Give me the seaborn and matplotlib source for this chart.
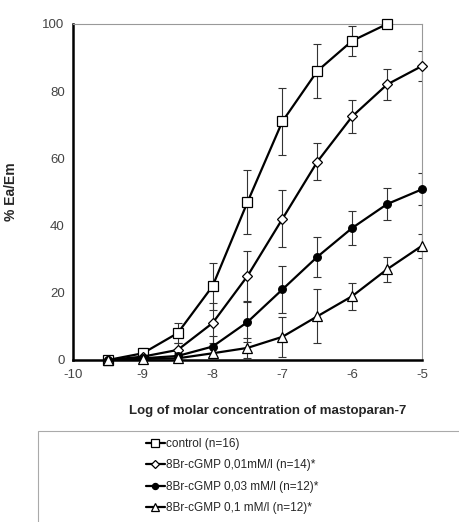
import matplotlib
matplotlib.use("Agg")
import matplotlib.pyplot as plt
import seaborn as sns
import pandas as pd
from matplotlib.patches import Rectangle
from matplotlib.ticker import MultipleLocator

# log molar concentration of mastoparan-7
log_conc = [-9.5, -9.0, -8.5, -8.0, -7.5, -7.0, -6.5, -6.0, -5.5, -5.0]

# % Ea/Em means and error (SEM) per group
control = [0, 2, 8, 22, 47, 71, 86, 95, 100, None]
control_err = [0, 1.5, 3, 7, 9.5, 10, 8, 4.5, 0, None]
cgmp_001 = [0, 1, 3, 11, 25, 42, 59, 72.5, 82, 87.5]
cgmp_001_err = [0, 0.5, 2, 6, 7.5, 8.5, 5.5, 4.8, 4.5, 4.5]
cgmp_003 = [0, 0.5, 1.2, 4, 11.3, 21, 30.7, 39.3, 46.4, 50.8]
cgmp_003_err = [0, 0.3, 1, 3, 6, 7, 6, 5, 4.7, 4.8]
cgmp_01 = [0, 0.3, 0.5, 2, 3.6, 6.9, 13, 19, 27, 34]
cgmp_01_err = [0, 0.2, 0.5, 1.5, 3, 6, 8, 4, 3.8, 3.5]

labels = ["control (n=16)",
          "8Br-cGMP 0,01mM/l (n=14)*",
          "8Br-cGMP 0,03 mM/l (n=12)*",
          "8Br-cGMP 0,1 mM/l (n=12)*"]

series = [(control, control_err, "s", "white", 7.5),
          (cgmp_001, cgmp_001_err, "D", "white", 5),
          (cgmp_003, cgmp_003_err, "o", "black", 5.5),
          (cgmp_01, cgmp_01_err, "^", "white", 6.5)]

sns.set_style("white")
plt.rcParams["font.family"] = ["Liberation Sans", "DejaVu Sans"]
plt.rcParams["axes.unicode_minus"] = False

fig = plt.figure(figsize=(4.6, 5.22), dpi=100)
ax = fig.add_axes([73 / 460, 1 - 360 / 522, 349 / 460, 336 / 522])

for (vals, errs, mk, fc, ms), lab in zip(series, labels):
    df = pd.DataFrame({"x": log_conc, "y": vals, "err": errs}).dropna()
    ax.errorbar(df["x"], df["y"], yerr=df["err"], fmt="none", ecolor="#333333",
                elinewidth=0.8, capsize=3, capthick=0.8, zorder=2)
    sns.lineplot(data=df, x="x", y="y", ax=ax, color="black", lw=1.6,
                 marker=mk, markersize=ms, markerfacecolor=fc,
                 markeredgecolor="black", markeredgewidth=0.9,
                 label=lab, zorder=3, clip_on=False)

ax.set_xlim(-10, -5)
ax.set_ylim(0, 100)
ax.xaxis.set_major_locator(MultipleLocator(1))
ax.xaxis.set_minor_locator(MultipleLocator(0.5))
ax.yaxis.set_major_locator(MultipleLocator(20))
ax.tick_params(axis="both", which="both", direction="inout", length=5,
               width=1.2, colors="black", labelcolor="#444444", labelsize=9.5)
ax.tick_params(axis="x", which="major", pad=4)

for s in ["left", "bottom"]:
    ax.spines[s].set_linewidth(1.8)
    ax.spines[s].set_color("black")
for s in ["top", "right"]:
    ax.spines[s].set_linewidth(0.8)
    ax.spines[s].set_color("#999999")

ax.set_ylabel("% Ea/Em", fontsize=10, fontweight="bold")
ax.yaxis.set_label_coords(-0.158, 0.5)
ax.set_xlabel("Log of molar concentration of mastoparan-7",
              fontsize=9.5, fontweight="bold")
ax.xaxis.set_label_coords(0.559, -0.134)

handles, labs = ax.get_legend_handles_labels()
ax.get_legend().remove()

# legend box
fig.patches.append(Rectangle((38 / 460, -0.1), 1, 1.1 - 431 / 522,
                             transform=fig.transFigure, fill=False,
                             edgecolor="#aaaaaa", lw=0.8))
fig.legend(handles, labs, loc="upper left",
           bbox_to_anchor=(140 / 460, 1 - 432 / 522), frameon=False,
           fontsize=8.5, handlelength=1.6, handletextpad=0.1,
           labelspacing=0.8, borderpad=0, markerscale=0.8)

fig.savefig("out.png", dpi=100)
